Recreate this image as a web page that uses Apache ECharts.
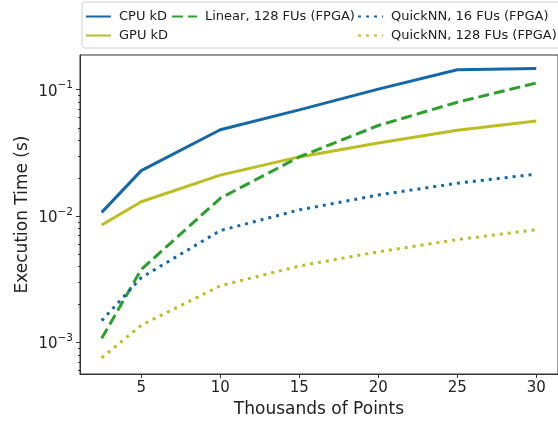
<!DOCTYPE html>
<html>
<head>
<meta charset="UTF-8">
<title></title>
<script src="https://cdn.jsdelivr.net/npm/echarts@6/dist/echarts.min.js"></script>
</head>
<body style="margin:0;background:#fff;">
<div id="chart" style="width:558px;height:423px;"></div>
<script type="text/javascript">
// thousands of points
var xs = [2.5, 5, 10, 15, 20, 25, 30];
// execution time in seconds
var cpuKd    = [0.0107, 0.0229, 0.0482, 0.0693, 0.101, 0.1437, 0.147];
var gpuKd    = [0.0085, 0.0130, 0.0211, 0.0294, 0.0379, 0.0477, 0.0565];
var linear128 = [0.00108, 0.00378, 0.01384, 0.0294, 0.0521, 0.0796, 0.113];
var quick16  = [0.00149, 0.00326, 0.00768, 0.0112, 0.0147, 0.0182, 0.0215];
var quick128 = [0.000757, 0.00137, 0.00281, 0.00403, 0.00522, 0.00652, 0.0078];
var xTicks = [5, 10, 15, 20, 25, 30];
var yDecades = [-3, -2, -1];

var font = 'DejaVu Sans';
var blue = '#1368aa', yellow = '#bcbd22', green = '#2ca02c';

function pts(vals) {
  return vals.map(function (v, i) { return [xs[i], Math.log10(v)]; });
}
// minor ticks at 2..9 x 10^n
var minor = [];
for (var n = -4; n <= -1; n++) {
  for (var k = 2; k <= 9; k++) minor.push(Math.log10(k * Math.pow(10, n)));
}

function line(name, vals, color, type) {
  return {
    name: name, type: 'line', data: pts(vals),
    symbol: 'none', showSymbol: false, animation: false,
    lineStyle: { color: color, width: 3, type: type, cap: 'butt' },
    itemStyle: { color: color }
  };
}

var chart = echarts.init(document.getElementById('chart'));
var legendBase = {
  orient: 'vertical', top: 10, padding: 0, itemWidth: 25, itemHeight: 14, itemGap: 6,
  itemStyle: { opacity: 0 },
  textStyle: { fontFamily: font, fontSize: 13, color: '#222', padding: [0, 0, 0, 3] }
};
var yMin = -3.249, yMax = -0.7255;
chart.setOption({
  animation: false,
  textStyle: { fontFamily: font },
  graphic: [{
    type: 'rect', shape: { x: 82, y: 2, width: 480, height: 46, r: 3 },
    style: { fill: '#fff', stroke: '#d0d0d0', lineWidth: 1 }, z: 0
  }],
  legend: [
    Object.assign({ left: 85, data: ['CPU kD', 'GPU kD'] }, legendBase),
    Object.assign({ left: 171, data: ['Linear, 128 FUs (FPGA)'] }, legendBase),
    Object.assign({ left: 357, data: ['QuickNN, 16 FUs (FPGA)', 'QuickNN, 128 FUs (FPGA)'] }, legendBase)
  ],
  grid: { left: 80, right: -4, top: 55, bottom: 46, show: true, borderColor: '#333', borderWidth: 1 },
  xAxis: {
    type: 'value', min: 1.125, max: 31.375,
    name: 'Thousands of Points', nameLocation: 'middle', nameGap: 27, nameMoveOverlap: false,
    nameTextStyle: { fontFamily: font, fontSize: 17, color: '#222' },
    axisLine: { lineStyle: { color: '#333' } },
    axisTick: { customValues: xTicks, length: 4, lineStyle: { color: '#333' } },
    axisLabel: { customValues: xTicks, margin: 7, fontFamily: font, fontSize: 15, color: '#222' },
    splitLine: { show: false }
  },
  yAxis: [{
    type: 'value', min: yMin, max: yMax,
    name: 'Execution Time (s)', nameLocation: 'middle', nameGap: 49, nameMoveOverlap: false,
    nameTextStyle: { fontFamily: font, fontSize: 17, color: '#222' },
    axisLine: { show: true, lineStyle: { color: '#333' } },
    axisTick: { customValues: yDecades, length: 4, lineStyle: { color: '#333' } },
    axisLabel: {
      customValues: yDecades, margin: 7,
      formatter: function (v) { return '{b|10}{s|\u2212' + Math.round(-v) + '}'; },
      rich: {
        b: { fontFamily: font, fontSize: 15, color: '#222', padding: [4, 0, 0, 0] },
        s: { fontFamily: font, fontSize: 10.5, color: '#222', padding: [0, 0, 8, 0] }
      }
    },
    splitLine: { show: false }
  }, {
    type: 'value', min: yMin, max: yMax, position: 'left',
    axisLine: { show: false },
    axisTick: { customValues: minor, length: 2, lineStyle: { color: '#333' } },
    axisLabel: { show: false },
    splitLine: { show: false }
  }],
  series: [
    line('CPU kD', cpuKd, blue, 'solid'),
    line('GPU kD', gpuKd, yellow, 'solid'),
    line('Linear, 128 FUs (FPGA)', linear128, green, [11, 5]),
    line('QuickNN, 16 FUs (FPGA)', quick16, blue, [3, 5]),
    line('QuickNN, 128 FUs (FPGA)', quick128, yellow, [3, 5])
  ]
});
</script>
</body>
</html>
